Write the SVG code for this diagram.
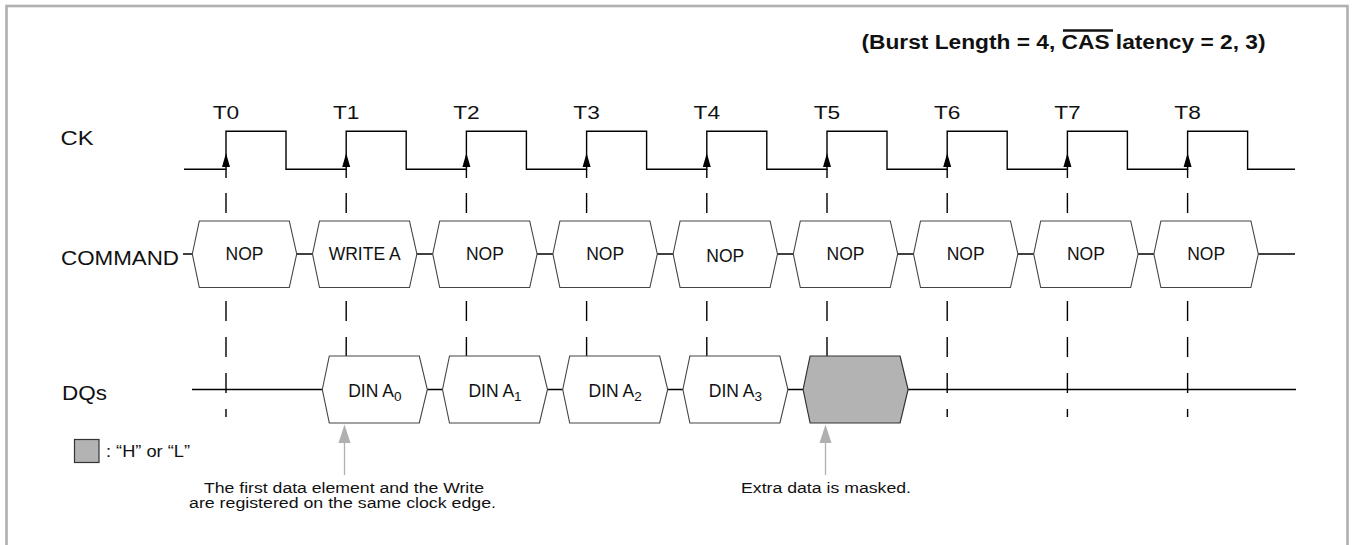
<svg xmlns="http://www.w3.org/2000/svg" width="1353" height="545" viewBox="0 0 1353 545">
<style>
text{font-family:"Liberation Sans",Arial,sans-serif;fill:#111}
.lbl{font-size:20px}
.tk{font-size:18px;text-anchor:middle}
.bx{font-size:17.5px;text-anchor:middle}
.note{font-size:15.5px;text-anchor:middle}
.box{fill:#fff;stroke:#444;stroke-width:1.1}
.mask{fill:#b3b3b3;stroke:#333;stroke-width:1.2}
.wire{fill:none;stroke:#000;stroke-width:1.4}
.dash{fill:none;stroke:#000;stroke-width:1.4;stroke-dasharray:20 16}
.garrow{stroke:#b0b0b0;stroke-width:1.3}
.ghead{fill:#b0b0b0}
</style>
<rect id="frame" x="6.5" y="6" width="1341" height="600" fill="none" stroke="#b0b0b0" stroke-width="2.6"/>

<g id="title">
<text x="861.5" y="49" font-size="20" font-weight="bold" textLength="404" lengthAdjust="spacingAndGlyphs">(Burst Length = 4, CAS latency = 2, 3)</text>
<line x1="1063" y1="30.5" x2="1113" y2="30.5" stroke="#111" stroke-width="2.6"/>
</g>

<g id="signal-labels">
<text class="lbl" x="60.5" y="144.5" textLength="33" lengthAdjust="spacingAndGlyphs">CK</text>
<text class="lbl" x="61" y="264.5" textLength="118" lengthAdjust="spacingAndGlyphs">COMMAND</text>
<text class="lbl" x="62" y="400" textLength="45" lengthAdjust="spacingAndGlyphs">DQs</text>
</g>

<g id="clock-labels">
<text class="tk" x="226" y="119" textLength="26.5" lengthAdjust="spacingAndGlyphs">T0</text>
<text class="tk" x="346.2" y="119" textLength="26.5" lengthAdjust="spacingAndGlyphs">T1</text>
<text class="tk" x="466.4" y="119" textLength="26.5" lengthAdjust="spacingAndGlyphs">T2</text>
<text class="tk" x="586.6" y="119" textLength="26.5" lengthAdjust="spacingAndGlyphs">T3</text>
<text class="tk" x="706.8" y="119" textLength="26.5" lengthAdjust="spacingAndGlyphs">T4</text>
<text class="tk" x="827" y="119" textLength="26.5" lengthAdjust="spacingAndGlyphs">T5</text>
<text class="tk" x="947.2" y="119" textLength="26.5" lengthAdjust="spacingAndGlyphs">T6</text>
<text class="tk" x="1067.4" y="119" textLength="26.5" lengthAdjust="spacingAndGlyphs">T7</text>
<text class="tk" x="1187.6" y="119" textLength="26.5" lengthAdjust="spacingAndGlyphs">T8</text>
</g>

<g id="connectors">
<path id="ck-wave" class="wire" d="M184,169.3 H226 V131.3 H286 V169.3 H346.2 V131.3 H406.2 V169.3 H466.4 V131.3 H526.4 V169.3 H586.6 V131.3 H646.6 V169.3 H706.8 V131.3 H766.8 V169.3 H827 V131.3 H887 V169.3 H947.2 V131.3 H1007.2 V169.3 H1067.4 V131.3 H1127.4 V169.3 H1187.6 V131.3 H1247.6 V169.3 H1295"/>
<path class="wire" d="M226,169 V178 M346.2,169 V178 M466.4,169 V178 M586.6,169 V178 M706.8,169 V178 M827,169 V178 M947.2,169 V178 M1067.4,169 V178 M1187.6,169 V178"/>
<g fill="#000">
<polygon points="226,153 222,167 230,167"/>
<polygon points="346.2,153 342.2,167 350.2,167"/>
<polygon points="466.4,153 462.4,167 470.4,167"/>
<polygon points="586.6,153 582.6,167 590.6,167"/>
<polygon points="706.8,153 702.8,167 710.8,167"/>
<polygon points="827,153 823,167 831,167"/>
<polygon points="947.2,153 943.2,167 951.2,167"/>
<polygon points="1067.4,153 1063.4,167 1071.4,167"/>
<polygon points="1187.6,153 1183.6,167 1191.6,167"/>
</g>
<path class="dash" d="M226,193 V417 M346.2,193 V417 M466.4,193 V417 M586.6,193 V417 M706.8,193 V417 M827,193 V417 M947.2,193 V417 M1067.4,193 V417 M1187.6,193 V417"/>
<path id="cmd-line" class="wire" d="M183,254 H1295"/>
<path id="dq-line" class="wire" d="M192,389.5 H1296"/>
<line class="garrow" x1="344.5" y1="475" x2="344.5" y2="440"/>
<polygon class="ghead" points="344.5,424.5 338.5,443 350.5,443"/>
<line class="garrow" x1="825.5" y1="475" x2="825.5" y2="440"/>
<polygon class="ghead" points="825.5,424.5 819.5,443 831.5,443"/>
</g>

<g id="cmd-T0"><polygon class="box" points="192.3,254 199.3,221 289.3,221 296.7,254 289.3,287.5 199.3,287.5"/><text class="bx" x="244.5" y="260">NOP</text></g>
<g id="cmd-T1"><polygon class="box" points="312.5,254 319.5,221 409.5,221 416.9,254 409.5,287.5 319.5,287.5"/><text class="bx" x="364.7" y="260">WRITE A</text></g>
<g id="cmd-T2"><polygon class="box" points="432.7,254 439.7,221 529.7,221 537.1,254 529.7,287.5 439.7,287.5"/><text class="bx" x="484.9" y="260">NOP</text></g>
<g id="cmd-T3"><polygon class="box" points="552.9,254 559.9,221 649.9,221 657.3,254 649.9,287.5 559.9,287.5"/><text class="bx" x="605.1" y="260">NOP</text></g>
<g id="cmd-T4"><polygon class="box" points="673.1,254 680.1,221 770.1,221 777.5,254 770.1,287.5 680.1,287.5"/><text class="bx" x="725.3" y="262">NOP</text></g>
<g id="cmd-T5"><polygon class="box" points="793.3,254 800.3,221 890.3,221 897.7,254 890.3,287.5 800.3,287.5"/><text class="bx" x="845.5" y="260">NOP</text></g>
<g id="cmd-T6"><polygon class="box" points="913.5,254 920.5,221 1010.5,221 1017.9,254 1010.5,287.5 920.5,287.5"/><text class="bx" x="965.7" y="260">NOP</text></g>
<g id="cmd-T7"><polygon class="box" points="1033.7,254 1040.7,221 1130.7,221 1138.1,254 1130.7,287.5 1040.7,287.5"/><text class="bx" x="1085.9" y="260">NOP</text></g>
<g id="cmd-T8"><polygon class="box" points="1153.9,254 1160.9,221 1250.9,221 1258.3,254 1250.9,287.5 1160.9,287.5"/><text class="bx" x="1206.1" y="260">NOP</text></g>

<g id="dq-A0"><polygon class="box" points="322.3,389.5 329.3,356 419.3,356 427.3,389.5 419.3,423 329.3,423"/><text class="bx" x="374.8" y="397">DIN A<tspan font-size="13.5" dy="4">0</tspan></text></g>
<g id="dq-A1"><polygon class="box" points="442.5,389.5 449.5,356 539.5,356 547.5,389.5 539.5,423 449.5,423"/><text class="bx" x="495" y="397">DIN A<tspan font-size="13.5" dy="4">1</tspan></text></g>
<g id="dq-A2"><polygon class="box" points="562.7,389.5 569.7,356 659.7,356 667.7,389.5 659.7,423 569.7,423"/><text class="bx" x="615.2" y="397">DIN A<tspan font-size="13.5" dy="4">2</tspan></text></g>
<g id="dq-A3"><polygon class="box" points="682.9,389.5 689.9,356 779.9,356 787.9,389.5 779.9,423 689.9,423"/><text class="bx" x="735.4" y="397">DIN A<tspan font-size="13.5" dy="4">3</tspan></text></g>
<g id="dq-masked"><polygon class="mask" points="803.1,389.5 810.1,356 900.1,356 908.1,389.5 900.1,423 810.1,423"/></g>

<g id="legend">
<rect x="74.5" y="439.5" width="24.5" height="23" class="mask"/>
<text x="106" y="456.5" font-size="17" textLength="84" lengthAdjust="spacingAndGlyphs">: “H” or “L”</text>
</g>

<g id="note-first">
<text class="note" x="344" y="492.5" textLength="280" lengthAdjust="spacingAndGlyphs">The first data element and the Write</text>
<text class="note" x="342.5" y="507.5" textLength="307" lengthAdjust="spacingAndGlyphs">are registered on the same clock edge.</text>
</g>
<g id="note-masked">
<text class="note" x="826" y="492.5" textLength="170" lengthAdjust="spacingAndGlyphs">Extra data is masked.</text>
</g>
</svg>
